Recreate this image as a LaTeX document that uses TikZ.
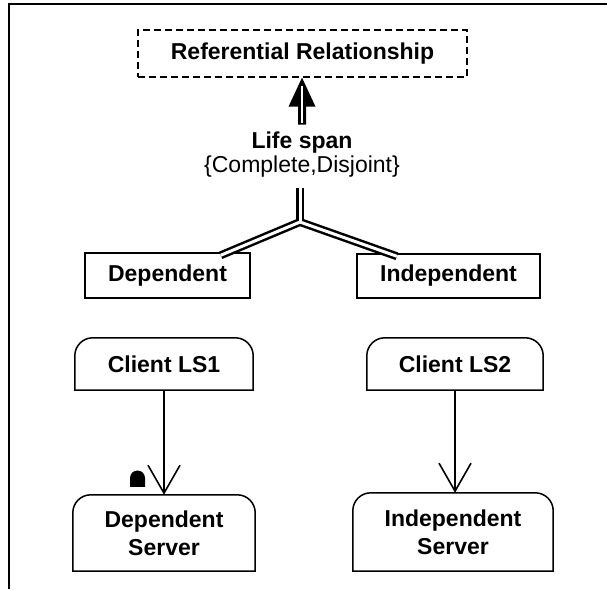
\documentclass[tikz,border=0pt]{standalone}
\usepackage{fontspec}
\setmainfont{Liberation Sans}
\usetikzlibrary{arrows.meta,calc}
\begin{document}
\begin{tikzpicture}[x=1pt,y=1pt,
  txt/.style={font=\fontsize{23}{28}\selectfont\bfseries},
  plainbox/.style={draw,line width=1.5pt,inner sep=0pt,txt},
  roundtop/.style={inner sep=0pt,txt,align=center},
  flow/.style={line width=1.6pt,-{Straight Barb[length=28pt,width=32pt,line width=1.6pt]}},
  dbl/.style={line width=8pt},
  dblin/.style={line width=3pt,white}]
\useasboundingbox (0,0) rectangle (607,589);
% frame
\draw[line width=2pt] (9,0) -- (9,585) -- (607,585);
% top box
\node[draw,dash pattern=on 7pt off 4pt,line width=1.3pt,minimum width=329pt,minimum height=47pt,inner sep=0pt,txt] (ref) at (302.5,535.5) {Referential Relationship};
\node[txt] (ls) at (302,446) {Life span};
\node[font=\fontsize{23}{28}\selectfont] (cd) at (302,422) {\{Complete,Disjoint\}};
% hollow arrow
\fill ($(ref.south)+(-0.5,0)$) -- ++(13.5,-29) -- ++(-9.5,0) -- ++(0,-18) -- ++(-8,0) -- ++(0,18) -- ++(-9.5,0) -- cycle;
\draw[white,line width=1.5pt] ($(ref.south)+(-0.5,-8)$) -- ++(0,-37);
% generalization boxes
\node[plainbox,minimum width=165pt,minimum height=45pt] (dep) at (167.5,313.5) {Dependent};
\node[plainbox,minimum width=183pt,minimum height=44pt] (ind) at (448.5,313) {Independent};
\coordinate (stemtop) at (300,401);
\coordinate (j) at (300,367);
\coordinate (dl) at ($(dep.north west)!0.82!(dep.north east)+(0,-3)$);
\coordinate (dr) at ($(ind.north west)!0.22!(ind.north east)+(0,-3)$);
\draw[dbl] (stemtop) -- (j);
\draw[dbl] (dl) -- (j) -- (dr);
\draw[dblin] (stemtop) -- (j);
\draw[dblin] (dl) -- (j) -- (dr);
% client/server nodes
\node[roundtop,minimum width=178pt,minimum height=52pt] (c1) at (164,225) {Client LS1};
\node[roundtop,minimum width=176pt,minimum height=52pt] (c2) at (455,225) {Client LS2};
\node[roundtop,minimum width=182pt,minimum height=76pt] (s1) at (164,56) {Dependent\\Server};
\node[roundtop,minimum width=200pt,minimum height=78pt] (s2) at (453,57) {Independent\\Server};
\foreach \n in {c1,c2,s1,s2}{
  \draw[line width=1.5pt] (\n.south west) -- ([yshift=-18pt]\n.north west) arc[start angle=180,end angle=90,radius=18pt] -- ([xshift=-18pt]\n.north east) arc[start angle=90,end angle=0,radius=18pt] -- (\n.south east) -- cycle;
}
\draw[flow] (c1.south) -- (c1.south |- s1.north);
\draw[flow] (c2.south) -- (c2.south |- s2.north);
% small black mark
\fill (130,102) -- (130,111) arc[start angle=180,end angle=0,radius=7.5] -- (145,102) -- cycle;
\end{tikzpicture}
\end{document}
